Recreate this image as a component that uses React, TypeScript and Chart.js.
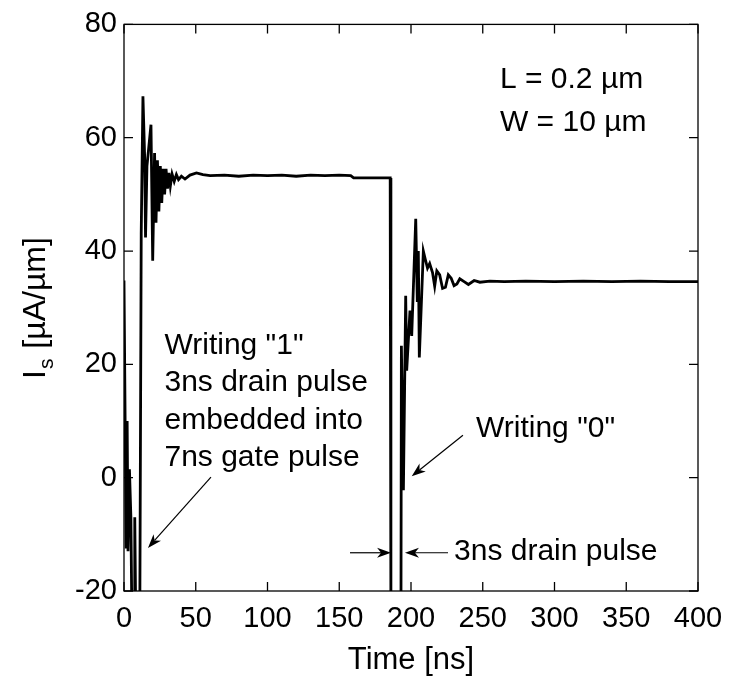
import React, { useEffect, useRef } from 'react';
import { Chart, registerables } from 'chart.js';

Chart.register(...registerables);

const FONT = '"Liberation Sans", Arial, Helvetica, sans-serif';

// Time axis [ns]
const timeNs = [
  0, 1.5, 2.2, 2.8, 3.8, 4.8, 5.5, 7, 7.5, 8.2, 11, 12, 13.2, 14.4, 15, 16, 18.8, 20, 21.3, 22.3,
  23.3, 24.3, 25.3, 26.3, 27.3, 28.3, 29.3, 30.3, 31.3, 32.3, 33.5, 35, 36.5, 38, 40, 42.5, 46,
  50.5, 55, 60, 70, 80, 90, 100, 110, 120, 130, 140, 150, 158, 160, 185.5, 186, 193, 193.3,
  194.7, 196.3, 197, 199.3, 200.5, 203.3, 204.4, 205.1, 205.8, 208.6, 210, 211.5, 213, 215,
  216.5, 218, 220, 222, 224, 226, 228, 230, 232, 234, 237, 240, 244, 248, 255, 265, 280, 300,
  320, 340, 360, 380, 400,
];

// Source current Is [uA/um]
const currentUA = [
  34.8, -12.5, 10, -13, 1.5, -7, -25, -25, -7, -25, -25, 43, 67.3, 56.5, 42.4, 55, 62.3, 38.3, 57.3, 45,
  56, 47, 55, 48.5, 54.5, 50, 54.5, 51, 53.8, 51.5, 53.6, 52.3, 53.5, 52.6, 53.2, 52.7, 53.4,
  53.8, 53.5, 53.3, 53.4, 53.2, 53.4, 53.3, 53.4, 53.2, 53.4, 53.3, 53.4, 53.3, 52.9, 52.9, -25, -25, 23.3,
  -2.2, 32.1, 18.9, 29.5, 25, 45.7, 31, 40, 21.2, 40, 38.5, 37, 37.8, 36.2,
  33.8, 36.5, 35.8, 33.4, 33.6, 35.8, 35.2, 33.9, 34.2, 35.1, 34.6, 34.1, 34.8, 34.5, 34.7, 34.6, 34.7, 34.6,
  34.7, 34.6, 34.7, 34.6, 34.6,
];

const xTickValues = [0, 50, 100, 150, 200, 250, 300, 350, 400];
const yTickValues = [-20, 0, 20, 40, 60, 80];

const deviceLines = ['L = 0.2 \u00b5m', 'W = 10 \u00b5m'];
const writing1Lines = ['Writing "1"', '3ns drain pulse', 'embedded into', '7ns gate pulse'];
const writing0Label = 'Writing "0"';
const drainPulseLabel = '3ns drain pulse';

function drawArrow(ctx: CanvasRenderingContext2D, x1: number, y1: number, x2: number, y2: number) {
  const ang = Math.atan2(y2 - y1, x2 - x1);
  const len = 14;
  const half = 5;
  const notch = 10;
  ctx.beginPath();
  ctx.moveTo(x1, y1);
  ctx.lineTo(x2 - Math.cos(ang) * notch, y2 - Math.sin(ang) * notch);
  ctx.stroke();
  ctx.beginPath();
  ctx.moveTo(x2, y2);
  const bx = x2 - Math.cos(ang) * len;
  const by = y2 - Math.sin(ang) * len;
  ctx.lineTo(bx - Math.sin(ang) * half, by + Math.cos(ang) * half);
  ctx.lineTo(x2 - Math.cos(ang) * notch, y2 - Math.sin(ang) * notch);
  ctx.lineTo(bx + Math.sin(ang) * half, by - Math.cos(ang) * half);
  ctx.closePath();
  ctx.fill();
}

const decorPlugin = {
  id: 'decor',
  afterDraw(chart: any) {
    const { ctx, chartArea } = chart;
    const { left, right, top, bottom } = chartArea;
    const xs = chart.scales.x;
    const ys = chart.scales.y;
    const px = (v: number) => xs.getPixelForValue(v);
    const py = (v: number) => ys.getPixelForValue(v);
    ctx.save();
    ctx.strokeStyle = '#000';
    ctx.fillStyle = '#000';
    ctx.lineWidth = 1.3;
    ctx.strokeRect(left, top, right - left, bottom - top);
    const tl = 9;
    ctx.beginPath();
    xTickValues.forEach((v) => {
      const x = px(v);
      ctx.moveTo(x, bottom);
      ctx.lineTo(x, bottom - tl);
      ctx.moveTo(x, top);
      ctx.lineTo(x, top + tl);
    });
    yTickValues.forEach((v) => {
      const y = py(v);
      ctx.moveTo(left, y);
      ctx.lineTo(left + tl, y);
      ctx.moveTo(right, y);
      ctx.lineTo(right - tl, y);
    });
    ctx.stroke();

    // Annotations
    ctx.font = `30px ${FONT}`;
    ctx.textBaseline = 'middle';
    ctx.textAlign = 'left';
    ctx.fillText(deviceLines[0], px(262), py(70.2));
    ctx.fillText(deviceLines[1], px(262), py(62.6));
    const w1y = [23.3, 16.8, 10.1, 3.6];
    writing1Lines.forEach((t, i) => ctx.fillText(t, px(28.2), py(w1y[i])));
    ctx.fillText(writing0Label, px(245.3), py(8.7));
    ctx.fillText(drainPulseLabel, px(230), py(-13.1));

    ctx.lineWidth = 1.2;
    drawArrow(ctx, px(60.6), py(0.1), px(16.7), py(-12.4));
    drawArrow(ctx, px(236.2), py(7.5), px(200.5), py(0.25));
    drawArrow(ctx, px(225.8), py(-13.25), px(195.8), py(-13.25));
    drawArrow(ctx, px(157.5), py(-13.25), px(186.1), py(-13.25));

    // Y axis title with subscript
    ctx.save();
    ctx.translate(33, 308);
    ctx.rotate(-Math.PI / 2);
    const big = `32px ${FONT}`;
    const small = `21px ${FONT}`;
    ctx.font = big;
    const wI = ctx.measureText('I').width;
    const rest = ' [\u00b5A/\u00b5m]';
    const wRest = ctx.measureText(rest).width;
    ctx.font = small;
    const wS = ctx.measureText('s').width;
    const total = wI + wS + wRest + 2;
    let cx = -total / 2;
    ctx.textBaseline = 'alphabetic';
    ctx.font = big;
    ctx.fillText('I', cx, 11.5);
    cx += wI + 1;
    ctx.font = small;
    ctx.fillText('s', cx, 20);
    cx += wS + 1;
    ctx.font = big;
    ctx.fillText(rest, cx, 11.5);
    ctx.restore();

    ctx.restore();
  },
};

export default function App() {
  const ref = useRef<HTMLCanvasElement | null>(null);
  useEffect(() => {
    if (!ref.current) return;
    const chart = new Chart(ref.current, {
      type: 'line',
      data: {
        datasets: [
          {
            data: timeNs.map((t, i) => ({ x: t, y: currentUA[i] })),
            borderColor: '#000',
            borderWidth: 2.8,
            pointRadius: 0,
            tension: 0,
            fill: false,
          },
        ],
      },
      options: {
        responsive: false,
        animation: false,
        layout: { padding: { left: 0, right: 40, top: 23, bottom: 0 } },
        plugins: { legend: { display: false }, tooltip: { enabled: false } },
        scales: {
          x: {
            type: 'linear',
            min: 0,
            max: 400,
            grid: { display: false, drawTicks: false },
            border: { display: false },
            ticks: {
              stepSize: 50,
              color: '#000',
              font: { family: FONT, size: 29 },
              padding: 11,
              maxRotation: 0,
            },
            title: {
              display: true,
              text: 'Time [ns]',
              color: '#000',
              font: { family: FONT, size: 31 },
              padding: { top: 0, bottom: 4 },
            },
            afterFit: (s: any) => {
              s.height = 92;
            },
          },
          y: {
            type: 'linear',
            min: -20,
            max: 80,
            grid: { display: false, drawTicks: false },
            border: { display: false },
            ticks: {
              stepSize: 20,
              color: '#000',
              font: { family: FONT, size: 29 },
              padding: 7,
            },
            afterFit: (s: any) => {
              s.width = 124;
            },
          },
        },
      },
      plugins: [decorPlugin],
    });
    return () => chart.destroy();
  }, []);
  return (
    <div style={{ position: 'fixed', left: 0, top: 0, width: 738, height: 683, background: '#fff' }}>
      <canvas ref={ref} width={738} height={683} />
    </div>
  );
}
